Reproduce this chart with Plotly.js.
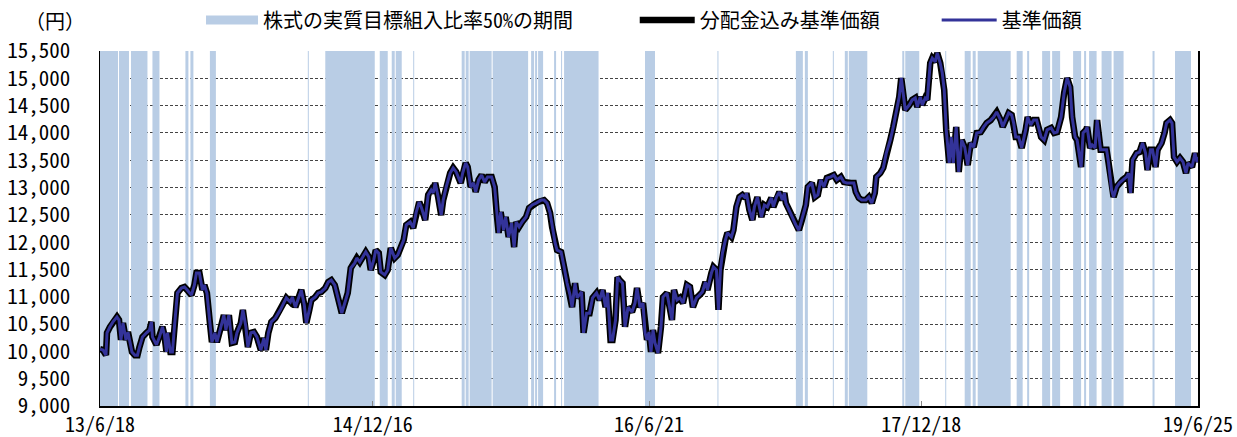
<!DOCTYPE html>
<html><head><meta charset="utf-8">
<script src="https://cdn.plot.ly/plotly-3.0.1.min.js"></script>
<style>html,body{margin:0;padding:0;background:#fff}#chart{width:1237px;height:437px}</style>
</head><body><div id="chart"></div>
<script>
// ---- data ----
const dates = [
"2013-06-18","2013-06-24","2013-06-30","2013-07-02","2013-07-08","2013-07-14","2013-07-22","2013-07-26","2013-07-30","2013-08-03",
"2013-08-09","2013-08-13","2013-08-17","2013-08-21","2013-08-27","2013-09-01","2013-09-05","2013-09-11","2013-09-19","2013-09-25",
"2013-09-29","2013-10-01","2013-10-09","2013-10-15","2013-10-21","2013-10-25","2013-10-29","2013-10-31","2013-11-06","2013-11-10",
"2013-11-14","2013-11-20","2013-11-28","2013-12-04","2013-12-10","2013-12-18","2013-12-24","2013-12-28","2014-01-03","2014-01-09",
"2014-01-13","2014-01-18","2014-01-24","2014-01-28","2014-02-03","2014-02-07","2014-02-15","2014-02-21","2014-02-25","2014-03-03",
"2014-03-09","2014-03-15","2014-03-19","2014-03-27","2014-03-31","2014-04-06","2014-04-10","2014-04-16","2014-04-22","2014-04-28",
"2014-05-06","2014-05-12","2014-05-16","2014-05-21","2014-05-27","2014-06-04","2014-06-14","2014-06-20","2014-06-26","2014-07-04",
"2014-07-08","2014-07-14","2014-07-20","2014-07-26","2014-08-01","2014-08-05","2014-08-11","2014-08-15","2014-08-23","2014-08-29",
"2014-09-04","2014-09-12","2014-09-18","2014-09-24","2014-10-01","2014-10-05","2014-10-11","2014-10-15","2014-10-21","2014-10-27",
"2014-11-02","2014-11-10","2014-11-14","2014-11-20","2014-11-26","2014-12-02","2014-12-08","2014-12-12","2014-12-18","2014-12-22",
"2014-12-28","2015-01-01","2015-01-09","2015-01-15","2015-01-21","2015-01-29","2015-02-04","2015-02-10","2015-02-16","2015-02-21",
"2015-03-01","2015-03-07","2015-03-13","2015-03-19","2015-03-23","2015-03-31","2015-04-06","2015-04-12","2015-04-16","2015-04-20",
"2015-04-26","2015-05-02","2015-05-06","2015-05-12","2015-05-20","2015-05-26","2015-06-01","2015-06-10","2015-06-14","2015-06-20",
"2015-06-24","2015-06-30","2015-07-06","2015-07-10","2015-07-16","2015-07-22","2015-07-28","2015-08-03","2015-08-11","2015-08-17",
"2015-08-21","2015-08-25","2015-08-29","2015-09-04","2015-09-08","2015-09-14","2015-09-20","2015-09-25","2015-09-29","2015-10-05",
"2015-10-11","2015-10-19","2015-10-25","2015-10-31","2015-11-08","2015-11-12","2015-11-18","2015-11-24","2015-11-30","2015-12-06",
"2015-12-10","2015-12-16","2015-12-20","2015-12-28","2016-01-03","2016-01-09","2016-01-15","2016-01-19","2016-01-25","2016-01-29",
"2016-02-07","2016-02-11","2016-02-17","2016-02-23","2016-02-29","2016-03-08","2016-03-14","2016-03-20","2016-03-26","2016-03-30",
"2016-04-05","2016-04-09","2016-04-15","2016-04-19","2016-04-23","2016-04-29","2016-05-04","2016-05-10","2016-05-18","2016-05-24",
"2016-05-28","2016-06-03","2016-06-09","2016-06-13","2016-06-17","2016-06-21","2016-06-25","2016-06-29","2016-07-03","2016-07-09",
"2016-07-15","2016-07-19","2016-07-27","2016-08-02","2016-08-06","2016-08-10","2016-08-16","2016-08-22","2016-08-28","2016-09-05",
"2016-09-11","2016-09-17","2016-09-24","2016-09-30","2016-10-06","2016-10-12","2016-10-16","2016-10-24","2016-10-28","2016-11-03",
"2016-11-07","2016-11-11","2016-11-15","2016-11-21","2016-11-25","2016-12-03","2016-12-07","2016-12-13","2016-12-19","2016-12-25",
"2016-12-31","2017-01-02","2017-01-08","2017-01-14","2017-01-18","2017-01-24","2017-02-01","2017-02-07","2017-02-13","2017-02-21",
"2017-02-25","2017-03-03","2017-03-09","2017-03-15","2017-03-19","2017-03-22","2017-03-28","2017-04-03","2017-04-11","2017-04-17",
"2017-04-23","2017-05-01","2017-05-05","2017-05-13","2017-05-19","2017-05-25","2017-05-31","2017-06-06","2017-06-12","2017-06-20",
"2017-06-26","2017-07-02","2017-07-10","2017-07-16","2017-07-22","2017-07-30","2017-08-05","2017-08-09","2017-08-15","2017-08-21",
"2017-08-29","2017-09-04","2017-09-10","2017-09-16","2017-09-19","2017-09-27","2017-10-03","2017-10-09","2017-10-17","2017-10-23",
"2017-10-29","2017-11-04","2017-11-08","2017-11-12","2017-11-16","2017-11-24","2017-11-30","2017-12-06","2017-12-10","2017-12-16",
"2017-12-20","2017-12-26","2017-12-30","2018-01-05","2018-01-09","2018-01-15","2018-01-19","2018-01-25","2018-01-29","2018-02-02",
"2018-02-06","2018-02-12","2018-02-16","2018-02-20","2018-02-26","2018-03-03","2018-03-09","2018-03-15","2018-03-21","2018-03-27",
"2018-04-02","2018-04-08","2018-04-16","2018-04-22","2018-04-28","2018-05-06","2018-05-12","2018-05-18","2018-05-26","2018-05-30",
"2018-06-05","2018-06-11","2018-06-17","2018-06-21","2018-06-25","2018-07-01","2018-07-07","2018-07-15","2018-07-19","2018-07-25",
"2018-07-31","2018-08-06","2018-08-15","2018-08-21","2018-08-27","2018-09-04","2018-09-10","2018-09-16","2018-09-24","2018-09-30",
"2018-10-06","2018-10-12","2018-10-16","2018-10-22","2018-10-26","2018-11-03","2018-11-07","2018-11-13","2018-11-15","2018-11-21",
"2018-11-25","2018-12-01","2018-12-05","2018-12-12","2018-12-16","2018-12-24","2018-12-28","2019-01-03","2019-01-07","2019-01-13",
"2019-01-19","2019-01-25","2019-02-02","2019-02-06","2019-02-10","2019-02-14","2019-02-22","2019-02-28","2019-03-06","2019-03-12",
"2019-03-16","2019-03-22","2019-03-26","2019-04-01","2019-04-05","2019-04-13","2019-04-19","2019-04-23","2019-04-30","2019-05-04",
"2019-05-08","2019-05-14","2019-05-20","2019-05-26","2019-06-01","2019-06-05","2019-06-13","2019-06-19","2019-06-23","2019-06-25"
];
const navValues = [
10040,10025,9930,10340,10450,10540,10630,10575,10210,10520,
10210,10355,10170,9990,9930,9930,10080,10265,10340,10390,
10540,10265,10120,10265,10450,10300,9990,10340,9990,9990,
10450,11070,11160,11180,11120,11030,11215,11435,11435,11125,
11215,11070,10520,10170,10340,10170,10450,10665,10390,10665,
10155,10170,10340,10520,10760,10450,10080,10340,10355,10265,
10025,10245,10025,10340,10540,10610,10760,10885,10980,10905,
10995,10810,10980,11125,10850,10520,10760,10940,10995,11070,
11090,11160,11270,11305,11215,11070,10885,10700,10885,11070,
11525,11620,11710,11635,11730,11820,11730,11490,11675,11855,
11800,11455,11400,11490,11895,11710,11765,11895,12040,12315,
12370,12260,12550,12735,12645,12405,12865,12955,12900,13085,
12825,12495,12770,13010,13265,13360,13285,13085,13265,13450,
13375,13010,13085,12920,13140,13230,13100,13195,13195,13010,
12535,12170,12550,12220,12460,12095,12350,11910,12370,12280,
12370,12460,12625,12680,12715,12735,12770,12770,12715,12535,
12280,11985,11855,11820,11545,11250,11030,10810,11250,10980,
11090,10340,10700,10700,10980,11070,10940,11125,10810,11070,
10210,10210,10575,11360,11305,11250,10450,10810,10720,10885,
11160,10810,10885,10340,10210,10355,9990,10390,10155,9970,
10450,10995,11070,10810,10575,11125,10940,10980,10885,11215,
11180,10810,10980,11030,11090,11270,11125,11435,11545,11490,
10760,11490,11800,12040,12170,12095,12220,12645,12825,12865,
12810,12900,12590,12405,12645,12825,12460,12680,12645,12810,
12645,12825,12920,12770,12900,12715,12590,12460,12315,12220,
12405,12680,13010,13085,12825,12865,13140,13010,13175,13195,
13230,13140,13195,13100,13085,13085,13085,12920,12810,12770,
12770,12825,12715,12900,13195,13265,13360,13630,13870,14110,
14365,14660,15005,14730,14420,14510,14605,14640,14475,14660,
14510,14640,14605,15280,15370,15300,15465,15280,15100,14785,
14055,13450,13925,13450,14110,13285,13870,13740,13410,13815,
13740,14000,14015,14110,14180,14235,14290,14385,14235,14110,
14235,14365,14330,14180,13925,13925,13725,14055,14290,14145,
14235,14235,13925,13870,14055,14090,14000,14015,14290,14730,
15005,14840,14290,13925,13870,13375,14000,14055,14110,13725,
13780,13725,14235,13690,13690,13690,13450,12955,12825,13010,
13085,13140,13195,13265,12900,13505,13630,13650,13815,13630,
13320,13690,13690,13375,13690,13815,14000,14180,14235,14180,
13560,13470,13540,13470,13265,13450,13375,13630,13470,13560
];
// No distributions were paid in the period, so both series coincide.
const navWithDistribution = navValues.slice();

const bandStarts = [
"2013-06-18","2013-07-26","2013-08-19","2013-10-01","2013-12-06","2013-12-16","2014-01-24","2014-08-08","2014-09-12","2014-12-30",
"2015-01-23","2015-01-31","2015-03-07","2015-06-12","2015-06-20","2015-06-28","2015-08-13","2015-10-29","2015-11-06","2015-11-12",
"2015-11-26","2015-12-14","2015-12-28","2016-01-03","2016-06-13","2016-11-05","2017-04-11","2017-04-29","2017-06-24","2017-07-18",
"2017-07-26","2017-11-10","2017-11-16","2018-02-04","2018-03-15","2018-03-31","2018-04-10","2018-06-27","2018-07-18","2018-08-17",
"2018-09-06","2018-10-18","2018-11-09","2018-11-19","2018-12-14","2019-01-07","2019-03-26","2019-05-10"
];
const bandEnds = [
"2013-07-24","2013-08-15","2013-09-21","2013-10-15","2013-12-12","2013-12-22","2014-02-05","2014-08-10","2014-12-20","2015-01-15",
"2015-01-29","2015-02-12","2015-03-09","2015-06-18","2015-06-26","2015-08-11","2015-10-23","2015-11-04","2015-11-10","2015-11-22",
"2015-11-27","2015-12-18","2015-12-30","2016-03-12","2016-07-03","2016-11-07","2017-04-25","2017-05-05","2017-06-26","2017-07-24",
"2017-09-01","2017-11-14","2017-12-14","2018-02-06","2018-03-27","2018-04-06","2018-06-15","2018-07-09","2018-07-22","2018-09-02",
"2018-09-22","2018-11-03","2018-11-13","2018-12-04","2019-01-03","2019-01-27","2019-03-30","2019-06-11"
];

const xTickVals = ["2013-06-18","2014-12-16","2016-06-21","2017-12-18","2019-06-25"];
const xTickText = ["13/6/18","14/12/16","16/6/21","17/12/18","19/6/25"];
const yTickVals = [9000,9500,10000,10500,11000,11500,12000,12500,13000,13500,14000,14500,15000,15500];
const yTickText = ["9,000","9,500","10,000","10,500","11,000","11,500","12,000","12,500","13,000","13,500","14,000","14,500","15,000","15,500"];
const yMin = 9000, yMax = 15500;

const seriesNames = {
  band: "株式の実質目標組入比率50%の期間",
  withDist: "分配金込み基準価額",
  nav: "基準価額"
};
const unitLabel = "（円）";

// ---- build band polygons ----
const bandX = [], bandY = [];
for (let i = 0; i < bandStarts.length; i++) {
  bandX.push(bandStarts[i], bandStarts[i], bandEnds[i], bandEnds[i], bandStarts[i], null);
  bandY.push(yMin, yMax, yMax, yMin, yMin, null);
}

const FONT = "'Noto Sans Mono CJK JP','Noto Sans CJK JP',sans-serif";
const BAND_COLOR = "#b9cde5";

const traces = [
  {type:"scatter", mode:"lines", x:bandX, y:bandY, fill:"toself", fillcolor:BAND_COLOR,
   line:{width:0, color:BAND_COLOR}, showlegend:false, hoverinfo:"skip", legendgroup:"band"},
  {type:"scatter", mode:"lines", x:[null], y:[null], name:seriesNames.band,
   line:{color:BAND_COLOR, width:9}, legend:"legend", legendgroup:"band"},
  {type:"scatter", mode:"lines", x:dates, y:navWithDistribution, name:seriesNames.withDist,
   line:{color:"#000000", width:6.5}, legend:"legend2"},
  {type:"scatter", mode:"lines", x:dates, y:navValues, name:seriesNames.nav,
   line:{color:"#333399", width:3}, legend:"legend3"}
];

const legendBase = {orientation:"h", yanchor:"middle", xanchor:"left", y:1.087,
  font:{family:FONT, size:20, color:"#000"}, bgcolor:"rgba(0,0,0,0)", itemwidth:52,
  borderwidth:0, tracegroupgap:0};

const layout = {
  width:1237, height:437,
  margin:{l:100, r:39, t:51, b:31, pad:0, autoexpand:false},
  paper_bgcolor:"#fff", plot_bgcolor:"#fff",
  font:{family:FONT, size:18, color:"#000"},
  showlegend:true,
  legend:Object.assign({}, legendBase, {x:0.092}),
  legend2:Object.assign({}, legendBase, {x:0.487, itemwidth:55}),
  legend3:Object.assign({}, legendBase, {x:0.762, itemwidth:55}),
  xaxis:{type:"date", range:[xTickVals[0], xTickVals[xTickVals.length-1]],
    tickmode:"array", tickvals:xTickVals, ticktext:xTickText,
    tickfont:{family:FONT, size:20, color:"#000"},
    showgrid:false, zeroline:false, showline:true, linecolor:"#000", linewidth:1.5,
    ticks:"inside", ticklen:5, tickcolor:"#888", tickwidth:1, fixedrange:true, automargin:false},
  yaxis:{range:[yMin, yMax], tickmode:"array", tickvals:yTickVals, ticktext:yTickText,
    tickfont:{family:FONT, size:21, color:"#000"},
    showgrid:true, gridcolor:"#444", gridwidth:1, griddash:"3px,2px",
    zeroline:false, showline:true, mirror:true, linecolor:"#000", linewidth:1.5,
    ticks:"", ticklabelstandoff:24, fixedrange:true, automargin:false},
  annotations:[{text:unitLabel, xref:"paper", yref:"paper", x:-0.041, y:1.087,
    xanchor:"center", yanchor:"middle", showarrow:false,
    font:{family:FONT, size:20, color:"#000"}}]
};

Plotly.newPlot("chart", traces, layout, {displayModeBar:false, staticPlot:true});
</script></body></html>
